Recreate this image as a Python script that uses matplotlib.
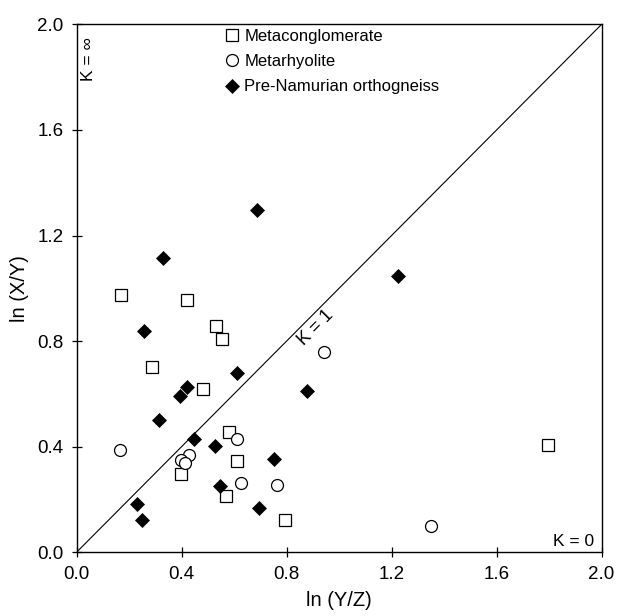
import numpy as np
import matplotlib
matplotlib.use("Agg")
import matplotlib.pyplot as plt

plt.rcParams['font.family'] = ['Liberation Sans', 'DejaVu Sans']

# ln(Y/Z), ln(X/Y)
meta_conglo_x = [0.171, 0.421, 0.530, 0.554, 0.289, 0.480, 0.580, 0.612, 0.397, 0.571, 0.795, 1.797]
meta_conglo_y = [0.973, 0.957, 0.857, 0.807, 0.701, 0.618, 0.454, 0.346, 0.296, 0.215, 0.123, 0.405]

meta_rhyo_x = [0.943, 0.165, 0.613, 0.430, 0.397, 0.414, 0.628, 0.762, 1.349]
meta_rhyo_y = [0.759, 0.386, 0.428, 0.370, 0.349, 0.337, 0.263, 0.255, 0.100]

ortho_x = [0.687, 0.330, 0.256, 0.612, 0.422, 0.396, 0.877, 0.314, 0.448, 0.529,
           0.753, 0.547, 0.695, 0.232, 0.249, 1.223]
ortho_y = [1.295, 1.114, 0.839, 0.678, 0.628, 0.594, 0.610, 0.502, 0.428, 0.401,
           0.355, 0.250, 0.166, 0.182, 0.121, 1.047]

ticks = [0.0, 0.4, 0.8, 1.2, 1.6, 2.0]
tick_labels = ["0.0", "0.4", "0.8", "1.2", "1.6", "2.0"]

fig = plt.figure(figsize=(6.17, 6.16), dpi=100)
ax = fig.add_axes([0.124, 0.1034, 0.851, 0.857])

# linea K = 1
ax.plot([0, 2], [0, 2], color='black', lw=0.8, zorder=1)

ax.plot(meta_conglo_x, meta_conglo_y, ls='none', marker='s', ms=8.2,
        mfc='white', mec='black', mew=0.9, label='Metaconglomerate', zorder=3)
ax.plot(meta_rhyo_x, meta_rhyo_y, ls='none', marker='o', ms=8.6,
        mfc='white', mec='black', mew=0.9, label='Metarhyolite', zorder=3)
ax.plot(ortho_x, ortho_y, ls='none', marker='D', ms=7.5,
        mfc='black', mec='black', mew=0.5, label='Pre-Namurian orthogneiss', zorder=3)

ax.set_xlim(0, 2)
ax.set_ylim(0, 2)
ax.set_xticks(ticks)
ax.set_xticklabels(tick_labels)
ax.set_yticks(ticks)
ax.set_yticklabels(tick_labels)
ax.tick_params(direction='inout', length=7, width=0.9, labelsize=13.5, pad=6)
for s in ax.spines.values():
    s.set_linewidth(1.0)

ax.set_xlabel("ln (Y/Z)", fontsize=14.5, labelpad=6)
ax.set_ylabel("ln (X/Y)", fontsize=14.5, labelpad=6)

ax.text(0.91, 0.85, "K = 1", rotation=45, fontsize=13, ha='center', va='center',
        rotation_mode='anchor', transform_rotates_text=True)
ax.text(0.022, 0.975, "K = \u221e", rotation=90, fontsize=12.5, ha='center', va='top',
        transform=ax.transAxes)
ax.text(0.985, 0.006, "K = 0", fontsize=12.5, ha='right', va='bottom',
        transform=ax.transAxes)

ax.legend(loc='upper left', bbox_to_anchor=(0.275, 0.998), frameon=False,
          fontsize=12, handlelength=0.9, handletextpad=0.3, labelspacing=0.62,
          borderpad=0.2, borderaxespad=0)

plt.savefig("out.png", dpi=100)
plt.close()
